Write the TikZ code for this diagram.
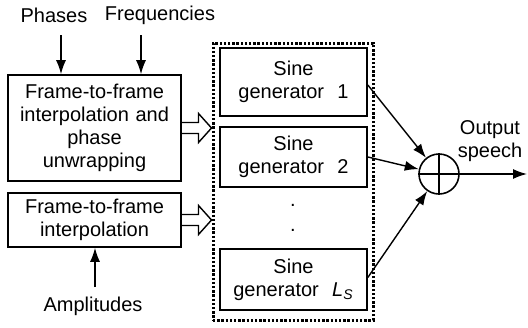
\documentclass[tikz,border=0pt]{standalone}
\usepackage{fontspec}
\setmainfont{Liberation Sans}
\usepackage{tikz}
\usetikzlibrary{calc,arrows.meta}
\def\hollowarrow(#1)(#2){\draw[line width=0.7pt] ($(#1)+(0,-5.5)$) -- ($(#2)+(-13,-5.5)$) -- ($(#2)+(-13,-14.5)$) -- (#2) -- ($(#2)+(-13,14.5)$) -- ($(#2)+(-13,5.5)$) -- ($(#1)+(0,5.5)$);}

\tikzset{
  blockbox/.style={draw, line width=0.8pt, align=center, inner sep=0pt, text width=#1},
  sig/.style={-{Latex[length=7pt,width=5pt]}, line width=0.7pt},
  lbl/.style={inner sep=0pt, align=center}
}

\begin{document}
\begin{tikzpicture}[x=0.5pt, y=-0.5pt, font=\fontsize{10}{11.5}\selectfont]
			%%%%% START %%%%%
			\useasboundingbox (0, 0) rectangle (528, 327);
			
			\node[lbl] (phases) at (54, 15) {Phases};
			\node[lbl] (freqs) at (160, 15) {Frequencies};
			\node[lbl] (amps) at (93, 306) {Amplitudes};
			\node[lbl] (outlbl) at (490, 141) {Output\\speech};
			
			\node[blockbox=86.5pt, minimum height=53pt] (interp1) at (94.5, 128) {Frame-to-frame\\interpolation and\\phase\\unwrapping};
			\node[blockbox=86.5pt, minimum height=27pt] (interp2) at (94.5, 220) {Frame-to-frame\\interpolation};
			
			\node[draw, line width=1.5pt, dash pattern=on 1.2pt off 0.9pt, minimum width=80pt, minimum height=138.5pt] (bank) at (293, 181.5) {};
			\node[blockbox=73.5pt, minimum height=34pt] (gen1) at (293.5, 82) {Sine\\generator\ \ 1};
			\node[blockbox=73.5pt, minimum height=30pt] (gen2) at (293.5, 157) {Sine\\generator\ \ 2};
			\node[blockbox=73.5pt, minimum height=30.5pt] (genL) at (293.5, 279.5) {Sine\\generator\ \ \textit{L}\textsubscript{\textit{S}}};
			\node[lbl] (dotA) at (293, 205) {.};
			\node[lbl] (dotB) at (293, 230) {.};
			
			\node[draw, circle, line width=0.8pt, minimum size=20pt, inner sep=0pt] (sum) at (439, 174) {};
			\draw[line width=0.8pt] (sum.north) -- (sum.south);
			\draw[line width=0.8pt] (sum.west) -- (sum.east);
			
			% inputs
			\coordinate (phin) at (61, 35);
			\coordinate (frin) at (141, 35);
			\coordinate (amin) at (95, 287);
			\draw[sig] (phin) -- (phin |- interp1.north);
			\draw[sig] (frin) -- (frin |- interp1.north);
			\draw[sig] (amin) -- (amin |- interp2.south);
			
			% parameter tracks into the bank
			\hollowarrow(interp1.east)(interp1.east -| bank.west)
			\hollowarrow(interp2.east)(interp2.east -| bank.west)
			
			% summation
			\draw[sig] ($(gen1.east)+(0,3)$) -- (sum);
			\draw[sig] (gen2.east) -- (sum);
			\draw[sig] ($(genL.east)+(0,-2)$) -- (sum);
			\coordinate (out) at (527, 174);
			\draw[sig] (sum.east) -- (out);
			
			%%%%% END %%%%%
		\end{tikzpicture}
\end{document}
